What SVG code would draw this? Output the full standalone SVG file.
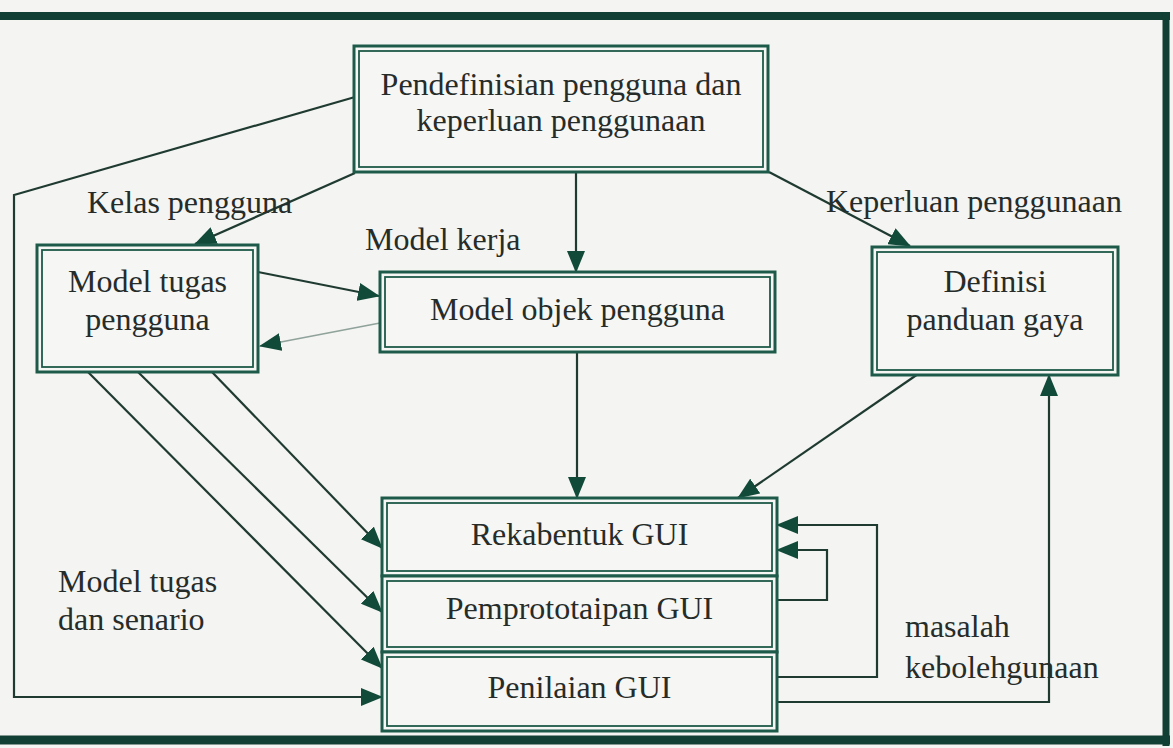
<svg xmlns="http://www.w3.org/2000/svg" width="1173" height="748" viewBox="0 0 1173 748">
  <style>
    .bg { fill: #f4f4f2; }
    .frame { stroke: #123f33; fill: none; }
    .outer { fill: #f6f6f4; stroke: #1d5a49; stroke-width: 3; }
    .inner { fill: none; stroke: #1d5a49; stroke-width: 1.8; }
    .txt { font-family: "Liberation Serif", "Times New Roman", serif; font-size: 32px; fill: #262c29; }
    .mid { text-anchor: middle; }
    .conn { fill: none; stroke: #1f3a31; stroke-width: 2.2; }
    .faint { stroke: #8fa29b; stroke-width: 1.6; }
  </style>
  <defs>
    <marker id="arrow" viewBox="0 0 22 18" refX="21" refY="9" markerWidth="22" markerHeight="18" markerUnits="userSpaceOnUse" orient="auto">
      <path d="M0,0 L22,9 L0,18 z" fill="#124a3a"/>
    </marker>
  </defs>

  <rect class="bg" x="0" y="0" width="1173" height="748"/>

  <!-- outer frame -->
  <g id="frame">
    <line class="frame" x1="0" y1="16" x2="1170" y2="16" stroke-width="8"/>
    <line class="frame" x1="1166" y1="12" x2="1166" y2="746" stroke-width="7"/>
    <line class="frame" x1="0" y1="740" x2="1170" y2="740" stroke-width="9"/>
  </g>

  <!-- connectors -->
  <g id="connectors">
    <line class="conn" x1="355" y1="173" x2="195" y2="244" marker-end="url(#arrow)"/>
    <line class="conn" x1="576" y1="172" x2="576" y2="272" marker-end="url(#arrow)"/>
    <line class="conn" x1="769" y1="172" x2="910" y2="246" marker-end="url(#arrow)"/>
    <path class="conn" d="M355,97 L14,195 L14,697 L382,697" marker-end="url(#arrow)"/>
    <line class="conn" x1="258" y1="272" x2="379" y2="296" marker-end="url(#arrow)"/>
    <line class="conn faint" x1="380" y1="323" x2="260" y2="346" marker-end="url(#arrow)"/>
    <line class="conn" x1="212" y1="372" x2="382" y2="548" marker-end="url(#arrow)"/>
    <line class="conn" x1="138" y1="372" x2="382" y2="612" marker-end="url(#arrow)"/>
    <line class="conn" x1="88" y1="372" x2="382" y2="668" marker-end="url(#arrow)"/>
    <line class="conn" x1="577" y1="352" x2="577" y2="498" marker-end="url(#arrow)"/>
    <line class="conn" x1="918" y1="374" x2="738" y2="498" marker-end="url(#arrow)"/>
    <path class="conn" d="M777,677 H877 V525 H777" marker-end="url(#arrow)"/>
    <path class="conn" d="M777,600 H827 V550 H777" marker-end="url(#arrow)"/>
    <path class="conn" d="M777,702 H1049 V375" marker-end="url(#arrow)"/>
  </g>

  <!-- nodes -->
  <g id="node-pendefinisian">
    <rect class="outer" x="354" y="46" width="414" height="126"/>
    <rect class="inner" x="359" y="51" width="404" height="116"/>
    <text class="txt mid" x="561" y="95">Pendefinisian pengguna dan</text>
    <text class="txt mid" x="561" y="131">keperluan penggunaan</text>
  </g>

  <g id="node-model-tugas">
    <rect class="outer" x="37" y="245" width="221" height="127"/>
    <rect class="inner" x="42" y="250" width="211" height="117"/>
    <text class="txt mid" x="147.5" y="292">Model tugas</text>
    <text class="txt mid" x="147.5" y="330">pengguna</text>
  </g>

  <g id="node-model-objek">
    <rect class="outer" x="380" y="272" width="395" height="80"/>
    <rect class="inner" x="385" y="277" width="385" height="70"/>
    <text class="txt mid" x="577.5" y="320">Model objek pengguna</text>
  </g>

  <g id="node-definisi">
    <rect class="outer" x="872" y="247" width="246" height="128"/>
    <rect class="inner" x="877" y="252" width="236" height="118"/>
    <text class="txt mid" x="995" y="292">Definisi</text>
    <text class="txt mid" x="995" y="330">panduan gaya</text>
  </g>

  <g id="node-rekabentuk">
    <rect class="outer" x="382" y="498" width="395" height="78"/>
    <rect class="inner" x="387" y="503" width="385" height="68"/>
    <text class="txt mid" x="579.5" y="545">Rekabentuk GUI</text>
  </g>

  <g id="node-pemprototaipan">
    <rect class="outer" x="382" y="576" width="395" height="76"/>
    <rect class="inner" x="387" y="581" width="385" height="66"/>
    <text class="txt mid" x="579.5" y="619">Pemprototaipan GUI</text>
  </g>

  <g id="node-penilaian">
    <rect class="outer" x="382" y="652" width="395" height="79"/>
    <rect class="inner" x="387" y="657" width="385" height="69"/>
    <text class="txt mid" x="579.5" y="698">Penilaian GUI</text>
  </g>

  <!-- connector labels -->
  <g id="labels">
    <text class="txt" x="87" y="213">Kelas pengguna</text>
    <text class="txt" x="365" y="250">Model kerja</text>
    <text class="txt" x="826" y="212">Keperluan penggunaan</text>
    <text class="txt" x="58" y="592">Model tugas</text>
    <text class="txt" x="58" y="630">dan senario</text>
    <text class="txt" x="905" y="637">masalah</text>
    <text class="txt" x="905" y="678">kebolehgunaan</text>
  </g>
</svg>
